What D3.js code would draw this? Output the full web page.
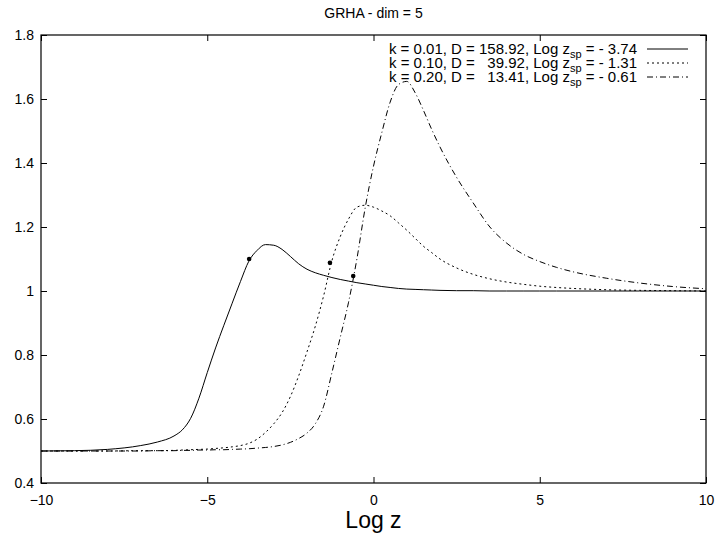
<!DOCTYPE html>
<html>
<head>
<meta charset="utf-8">
<script src="https://cdn.jsdelivr.net/npm/d3@7"></script>
<style>
  body { margin: 0; background: #fff; }
  text { font-family: "Liberation Sans", Arial, sans-serif; fill: #000; }
</style>
</head>
<body>
<svg id="chart" width="715" height="535"></svg>
<script>
// log z grid shared by the three curves
var logZ = [-10, -9, -8, -7, -6.5, -6, -5.75, -5.5, -5.25, -5, -4.75, -4.5, -4.25, -4, -3.75, -3.5, -3.25, -3,
  -2.75, -2.5, -2.25, -2, -1.75, -1.5, -1.25, -1, -0.75, -0.5, -0.25, 0, 0.25, 0.5, 0.75, 1, 1.25, 1.5, 1.75, 2,
  2.5, 3, 3.5, 4, 4.5, 5, 5.5, 6, 7, 8, 9, 10];

// k = 0.01
var curveK001 = [0.500, 0.501, 0.505, 0.517, 0.528, 0.547, 0.566, 0.602, 0.665, 0.745, 0.822, 0.893, 0.962, 1.030,
  1.093, 1.127, 1.145, 1.143, 1.130, 1.108, 1.085, 1.068, 1.057, 1.049, 1.042, 1.036, 1.031, 1.026, 1.022, 1.018,
  1.014, 1.011, 1.008, 1.006, 1.005, 1.004, 1.003, 1.002, 1.001, 1.001, 1, 1, 1, 1, 1, 1, 1, 1, 1, 1];
// k = 0.10
var curveK010 = [0.500, 0.500, 0.500, 0.501, 0.501, 0.502, 0.503, 0.504, 0.505, 0.506, 0.508, 0.510, 0.513, 0.517,
  0.524, 0.537, 0.558, 0.585, 0.620, 0.670, 0.735, 0.810, 0.890, 0.985, 1.095, 1.170, 1.225, 1.262, 1.268, 1.262,
  1.250, 1.235, 1.213, 1.190, 1.165, 1.140, 1.120, 1.100, 1.072, 1.052, 1.038, 1.028, 1.021, 1.015, 1.011, 1.008,
  1.004, 1.002, 1.001, 1.000];
// k = 0.20
var curveK020 = [0.500, 0.500, 0.500, 0.500, 0.501, 0.501, 0.502, 0.502, 0.503, 0.503, 0.504, 0.504, 0.505, 0.506,
  0.507, 0.509, 0.511, 0.514, 0.519, 0.527, 0.539, 0.556, 0.585, 0.640, 0.745, 0.855, 0.965, 1.100, 1.260, 1.390,
  1.495, 1.590, 1.645, 1.655, 1.620, 1.565, 1.505, 1.450, 1.355, 1.275, 1.200, 1.150, 1.115, 1.092, 1.074, 1.060,
  1.040, 1.025, 1.014, 1.007];

// marked points at log z_sp
var spX = [-3.74, -1.31, -0.61];
var spY = [1.100, 1.088, 1.047];

// legend values
var legendK = ["0.01", "0.10", "0.20"];
var legendD = ["158.92", "39.92", "13.41"];
var legendZsp = ["- 3.74", "- 1.31", "- 0.61"];

var xTicks = [-10, -5, 0, 5, 10];
var yTicks = [0.4, 0.6, 0.8, 1, 1.2, 1.4, 1.6, 1.8];

var dashes = ["none", "2,3", "6,3,1,3"];

var width = 715, height = 535;
var margin = {top: 35, right: 9, bottom: 52, left: 41};

var svg = d3.select("svg#chart");

var x = d3.scaleLinear().domain([-10, 10]).range([margin.left, width - margin.right]);
var y = d3.scaleLinear().domain([0.4, 1.8]).range([height - margin.bottom, margin.top]);

// axes, ticks pointing inwards like gnuplot
svg.append("g")
    .attr("transform", "translate(0," + y(0.4) + ")")
    .call(d3.axisBottom(x).tickValues(xTicks).tickSize(-6).tickPadding(12).tickFormat(d3.format("d")))
    .call(g => g.select(".domain").remove())
    .call(g => g.selectAll("text").attr("font-size", 14).attr("font-family", null));

svg.append("g")
    .attr("transform", "translate(" + x(-10) + ",0)")
    .call(d3.axisLeft(y).tickValues(yTicks).tickSize(-6).tickPadding(7).tickFormat(d => String(d)))
    .call(g => g.select(".domain").remove())
    .call(g => g.selectAll("text").attr("font-size", 14).attr("font-family", null));

svg.append("g")
    .attr("transform", "translate(0," + y(1.8) + ")")
    .call(d3.axisTop(x).tickValues(xTicks).tickSize(-6).tickFormat(""))
    .call(g => g.select(".domain").remove());

svg.append("g")
    .attr("transform", "translate(" + x(10) + ",0)")
    .call(d3.axisRight(y).tickValues(yTicks).tickSize(-6).tickFormat(""))
    .call(g => g.select(".domain").remove());

svg.append("rect")
    .attr("x", x(-10))
    .attr("y", y(1.8))
    .attr("width", x(10) - x(-10))
    .attr("height", y(0.4) - y(1.8))
    .attr("fill", "none")
    .attr("stroke", "#000")
    .attr("stroke-width", 1.2);

// curves
var series = [curveK001, curveK010, curveK020];
var line = d3.line()
    .x((d, i) => x(logZ[i]))
    .y(d => y(d))
    .curve(d3.curveMonotoneX);

svg.append("g")
  .selectAll("path")
  .data(series)
  .join("path")
    .attr("d", line)
    .attr("fill", "none")
    .attr("stroke", "#000")
    .attr("stroke-width", 1)
    .attr("stroke-dasharray", (d, i) => dashes[i]);

svg.append("g")
  .selectAll("circle")
  .data(spX)
  .join("circle")
    .attr("cx", d => x(d))
    .attr("cy", (d, i) => y(spY[i]))
    .attr("r", 2.3)
    .attr("fill", "#000");

// title and axis label
svg.append("text")
    .attr("x", (x(-10) + x(10)) / 2)
    .attr("y", 18)
    .attr("text-anchor", "middle")
    .attr("font-size", 14)
    .text("GRHA - dim = 5");

svg.append("text")
    .attr("x", (x(-10) + x(10)) / 2)
    .attr("y", 528)
    .attr("text-anchor", "middle")
    .attr("font-size", 23)
    .text("Log z");

// legend
var legend = svg.append("g").attr("font-size", 15);
legendK.forEach(function(k, i) {
  var rowY = 49 + i * 14;
  var pad = "  ".repeat(6 - legendD[i].length);
  var t = legend.append("text")
      .attr("x", 637)
      .attr("y", rowY + 5)
      .attr("text-anchor", "end")
      .style("white-space", "pre");
  t.append("tspan").text("k = " + k + ", D = " + pad + legendD[i] + ", Log z");
  t.append("tspan").attr("font-size", 11).attr("dy", 4).text("sp");
  t.append("tspan").attr("dy", -4).text(" = " + legendZsp[i]);
  legend.append("line")
      .attr("x1", 647).attr("x2", 688)
      .attr("y1", rowY).attr("y2", rowY)
      .attr("stroke", "#000")
      .attr("stroke-width", 1)
      .attr("stroke-dasharray", dashes[i]);
});
</script>
</body>
</html>
